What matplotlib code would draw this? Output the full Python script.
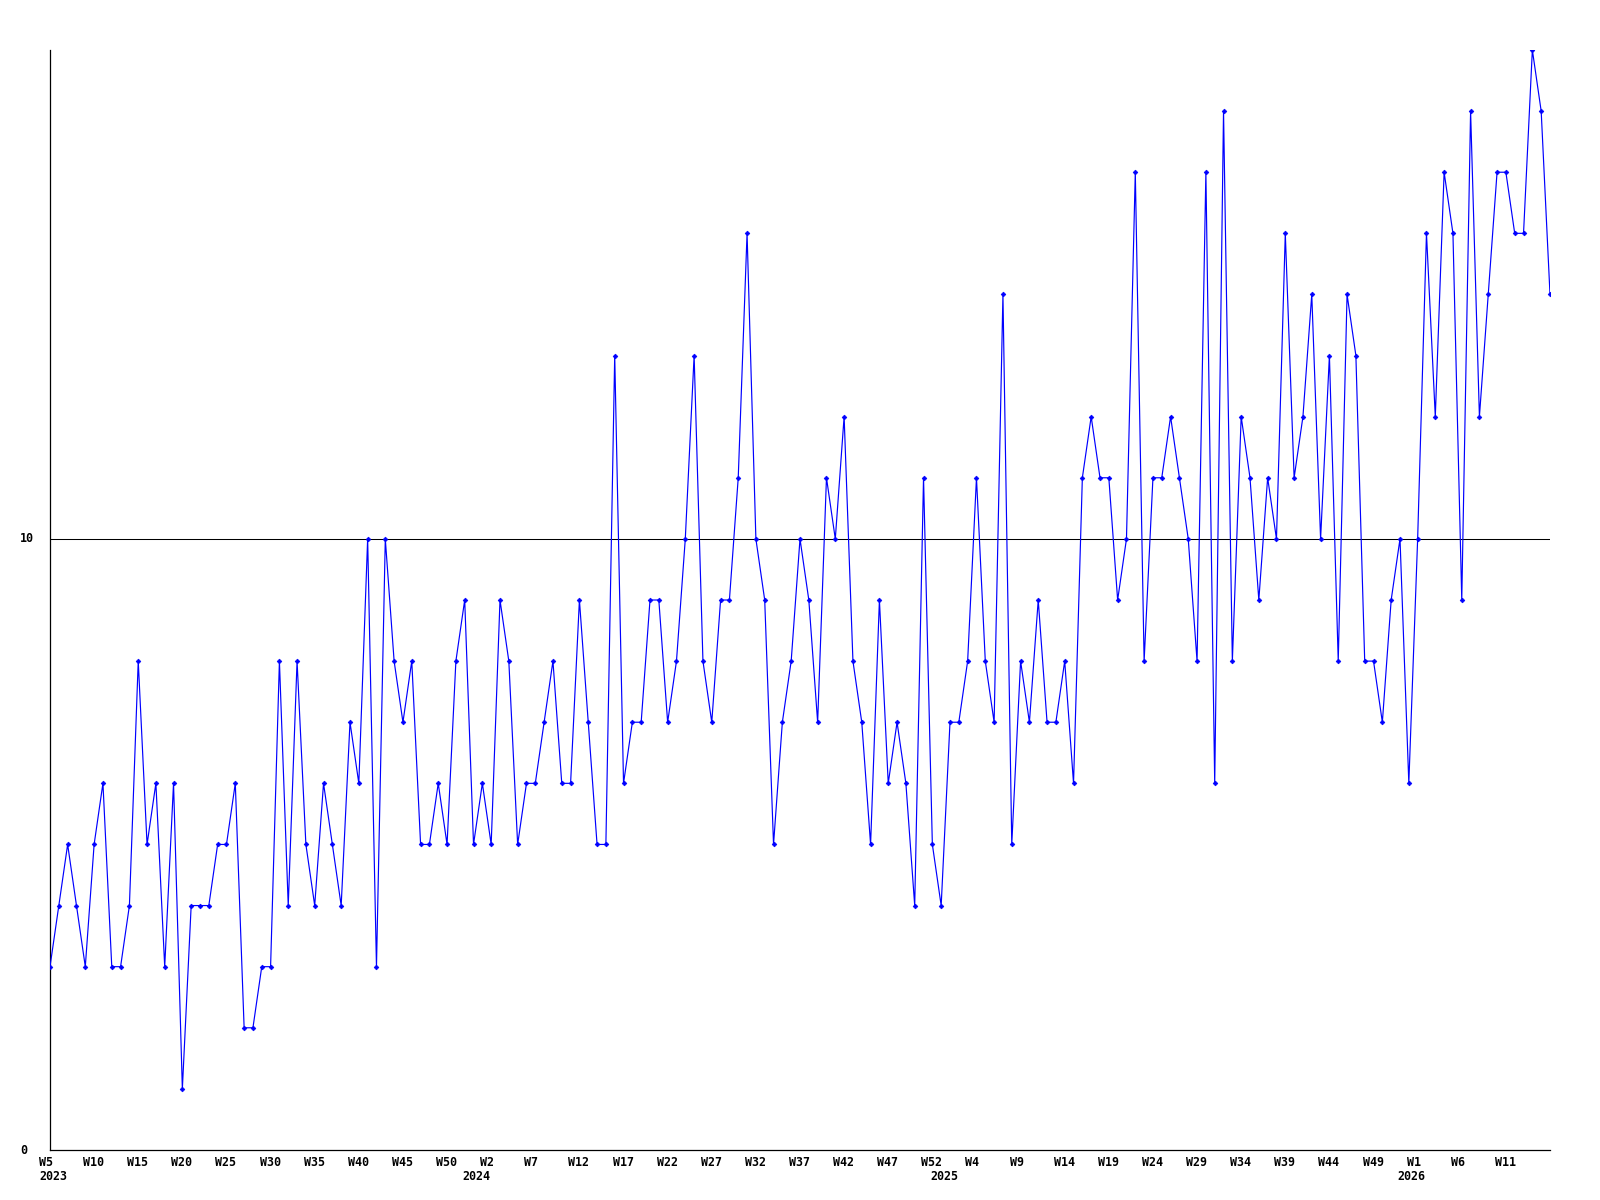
import numpy as np
import matplotlib
matplotlib.use("Agg")
import matplotlib.pyplot as plt
from matplotlib.transforms import offset_copy

# weekly counts, one per week starting at 2023 W5
values = [3, 4, 5, 4, 3, 5, 6, 3, 3, 4,
          8, 5, 6, 3, 6, 1, 4, 4, 4, 5,
          5, 6, 2, 2, 3, 3, 8, 4, 8, 5,
          4, 6, 5, 4, 7, 6, 10, 3, 10, 8,
          7, 8, 5, 5, 6, 5, 8, 9, 5, 6,
          5, 9, 8, 5, 6, 6, 7, 8, 6, 6,
          9, 7, 5, 5, 13, 6, 7, 7, 9, 9,
          7, 8, 10, 13, 8, 7, 9, 9, 11, 15,
          10, 9, 5, 7, 8, 10, 9, 7, 11, 10,
          12, 8, 7, 5, 9, 6, 7, 6, 4, 11,
          5, 4, 7, 7, 8, 11, 8, 7, 14, 5,
          8, 7, 9, 7, 7, 8, 6, 11, 12, 11,
          11, 9, 10, 16, 8, 11, 11, 12, 11, 10,
          8, 16, 6, 17, 8, 12, 11, 9, 11, 10,
          15, 11, 12, 14, 10, 13, 8, 14, 13, 8,
          8, 7, 9, 10, 6, 10, 15, 12, 16, 15,
          9, 17, 12, 14, 16, 16, 15, 15, 18, 17,
          14]

week_labels = ["W5", "W10", "W15", "W20", "W25", "W30", "W35", "W40", "W45", "W50",
               "W2", "W7", "W12", "W17", "W22", "W27", "W32", "W37", "W42", "W47", "W52",
               "W4", "W9", "W14", "W19", "W24", "W29", "W34", "W39", "W44", "W49",
               "W1", "W6", "W11"]
year_labels = ["2023", "2024", "2025", "2026"]
year_pos = [0, 48, 101, 154]

y_ticks = [0, 10]

x = np.arange(len(values))

fig = plt.figure(figsize=(16, 12), dpi=100)
ax = fig.add_axes([50 / 1600, 1 - 1150 / 1200, 1500 / 1600, 1100 / 1200])

font = dict(family="DejaVu Sans Mono", fontsize=8.4, fontweight="bold")

ax.axhline(10, color="black", lw=0.75, zorder=1)
ax.plot(x, values, color="#0000ff", lw=0.85, marker="D", ms=2.4, mew=0.5, zorder=3)

ax.set_xlim(0, len(values) - 1)
ax.set_ylim(0, 18)

for s in ["top", "right"]:
    ax.spines[s].set_visible(False)
for s in ["left", "bottom"]:
    ax.spines[s].set_linewidth(0.9)

ax.set_xticks([])
ax.set_yticks([])

# week labels every 5 points, left-aligned a bit before the point
trans_wk = offset_copy(ax.get_xaxis_transform(), fig=fig, x=-11, y=-12, units="dots")
for i, lab in enumerate(week_labels):
    ax.text(i * 5, 0, lab, transform=trans_wk, ha="left", va="center", **font)

trans_yr = offset_copy(ax.get_xaxis_transform(), fig=fig, x=-11, y=-27, units="dots")
for p, lab in zip(year_pos, year_labels):
    ax.text(p, 0, lab, transform=trans_yr, ha="left", va="center", **font)

trans_y = offset_copy(ax.get_yaxis_transform(), fig=fig, x=-30, y=0, units="dots")
for v in y_ticks:
    ax.text(0, v, str(v), transform=trans_y, ha="left", va="center", **font)

fig.savefig("out.png", dpi=100, facecolor="white")
